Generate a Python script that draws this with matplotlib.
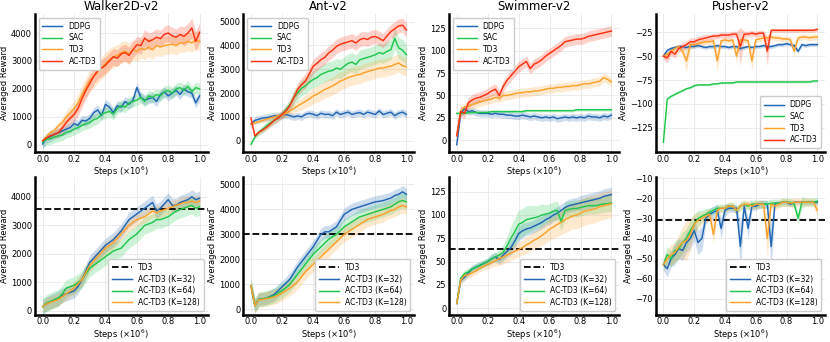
import matplotlib
matplotlib.use('Agg')
import matplotlib.pyplot as plt
import numpy as np

steps = np.linspace(0.0, 1.0, 41)

# ---- top row: baselines vs AC-TD3 ----
walker_ddpg = [30, 250, 300, 380, 430, 500, 560, 620, 760, 700, 880, 850, 950, 1150, 1250, 1050, 1450, 1350, 1150, 1400,
               1350, 1550, 1450, 1600, 2050, 1700, 1600, 1650, 1700, 1550, 1800, 1900, 1750, 1850, 1950, 1800, 2000, 1900,
               1850, 1500, 1750]
walker_sac = [100, 200, 220, 280, 320, 350, 450, 480, 560, 620, 700, 750, 800, 900, 950, 1100, 1150, 1200, 1100, 1300,
              1400, 1350, 1500, 1550, 1600, 1700, 1550, 1750, 1700, 1800, 1750, 1900, 1950, 1850, 2000, 2050, 1950, 2100,
              1900, 2050, 2000]
walker_td3 = [150, 300, 450, 520, 680, 800, 1000, 1150, 1300, 1500, 1800, 2050, 2300, 2450, 2600, 2750, 2900, 3050, 3150,
              3200, 3300, 3350, 3250, 3400, 3350, 3450, 3400, 3500, 3400, 3550, 3500, 3550, 3580, 3600, 3550, 3650, 3640,
              3700, 3650, 3750, 3700]
walker_actd3 = [150, 250, 330, 380, 440, 600, 800, 950, 1090, 1300, 1650, 1950, 2200, 2450, 2650, 2750, 2850, 3000, 3150,
                3100, 3250, 3300, 3200, 3400, 3580, 3550, 3820, 3700, 3760, 3850, 3800, 3950, 4000, 3900, 3850, 3950, 3880,
                4000, 4180, 3700, 4030]
walker_ddpg_sd = 180
walker_sac_sd = 200
walker_td3_sd = [50, 80, 100, 120, 150, 180, 220, 250, 280, 300, 330, 350, 380, 400, 400, 400, 400, 400, 380, 380, 380,
                 380, 380, 360, 360, 350, 350, 350, 350, 340, 340, 330, 330, 330, 330, 330, 330, 330, 330, 330, 330]
walker_actd3_sd = [50, 80, 100, 120, 150, 180, 200, 220, 250, 270, 300, 300, 300, 300, 300, 300, 300, 300, 300, 300, 300,
                   300, 300, 300, 300, 300, 300, 300, 300, 300, 300, 300, 300, 300, 300, 300, 350, 350, 350, 350, 350]

ant_ddpg = [700, 850, 900, 950, 970, 1000, 1050, 1050, 1070, 1100, 1050, 1000, 1040, 1000, 1100, 1150, 1110, 1050, 1150,
            1100, 1110, 1050, 1200, 1100, 1150, 1200, 1100, 1150, 1180, 1100, 1200, 1150, 1100, 1250, 1100, 1150, 1200,
            1050, 1150, 1200, 1100]
ant_sac = [-150, 150, 350, 480, 620, 750, 850, 950, 1110, 1300, 1500, 1800, 2000, 2200, 2300, 2450, 2570, 2650, 2780,
           2850, 2920, 2950, 3050, 3000, 3125, 3250, 3300, 3200, 3400, 3450, 3500, 3550, 3610, 3700, 3650, 3750, 3820,
           4300, 3900, 3800, 3610]
ant_td3 = [700, 750, 800, 850, 900, 950, 1000, 1050, 1070, 1150, 1250, 1350, 1460, 1550, 1650, 1750, 1875, 1950, 2050,
           2150, 2220, 2300, 2400, 2500, 2570, 2650, 2700, 2750, 2780, 2850, 2900, 2950, 2990, 3050, 3050, 3100, 3125,
           3200, 3260, 3150, 3100]
ant_actd3 = [950, 200, 350, 450, 560, 700, 850, 950, 1110, 1250, 1460, 1800, 2150, 2350, 2500, 2800, 3125, 3250, 3400,
             3500, 3680, 3800, 3960, 4050, 4100, 4150, 4200, 4100, 4240, 4300, 4250, 4350, 4375, 4300, 4200, 4400, 4580,
             4700, 4820, 4850, 4650]
ant_ddpg_sd = 150
ant_sac_sd = [50, 100, 120, 150, 150, 150, 150, 150, 180, 200, 250, 300, 300, 320, 340, 350, 360, 380, 380, 400, 400,
              400, 400, 400, 400, 400, 400, 400, 400, 400, 400, 400, 400, 400, 400, 420, 420, 450, 450, 450, 450]
ant_td3_sd = [50, 60, 70, 80, 100, 100, 100, 100, 120, 150, 180, 200, 220, 250, 280, 300, 320, 340, 350, 360, 370,
              380, 380, 380, 380, 380, 380, 380, 380, 380, 380, 380, 380, 380, 380, 380, 380, 380, 380, 380, 380]
ant_actd3_sd = [50, 80, 100, 100, 120, 130, 150, 150, 180, 200, 220, 250, 260, 280, 300, 300, 300, 300, 300, 300, 300,
                300, 300, 300, 300, 300, 300, 300, 300, 300, 300, 300, 300, 300, 300, 300, 300, 300, 300, 300, 300]

swimmer_ddpg = [-5, 30, 35, 32, 33, 31, 30, 30, 30, 29, 30, 29, 29, 28, 28, 27, 27, 28, 27, 26, 27, 26, 25, 26, 25, 26,
                24, 25, 26, 25, 26, 25, 26, 25, 27, 26, 26, 25, 27, 26, 28]
swimmer_sac = [30, 30, 30, 31, 31, 31, 31, 31, 31, 32, 32, 32, 32, 32, 32, 32, 32, 32, 33, 33, 33, 33, 33, 33, 33, 33,
               33, 33, 33, 33, 33, 34, 34, 34, 34, 34, 34, 34, 34, 34, 34]
swimmer_td3 = [5, 33, 37, 38, 40, 41, 43, 44, 45, 46, 48, 47, 50, 50, 51, 52, 53, 53, 54, 54, 55, 55, 56, 57, 58, 58,
               59, 59, 60, 60, 61, 61, 62, 63, 63, 64, 65, 66, 70, 68, 65]
swimmer_actd3 = [5, 32, 30, 42, 45, 47, 48, 50, 52, 55, 57, 50, 60, 67, 72, 77, 82, 85, 88, 80, 85, 87, 90, 94, 97, 100,
                 103, 106, 110, 111, 112, 113, 113, 114, 116, 117, 118, 119, 120, 121, 122]
swimmer_ddpg_sd = 4
swimmer_sac_sd = 1.5
swimmer_td3_sd = 5
swimmer_actd3_sd = 6

pusher_ddpg = [-50, -44, -42, -41, -40, -40, -41, -40, -40, -39, -40, -41, -40, -40, -39, -40, -40, -41, -40, -40, -42,
               -41, -40, -41, -40, -40, -39, -40, -40, -39, -38, -38, -37, -38, -39, -45, -38, -39, -38, -38, -38]
pusher_sac = [-140, -95, -92, -90, -88, -86, -84, -83, -81, -80, -80, -80, -80, -79, -79, -78, -78, -78, -78, -77, -77,
              -77, -77, -77, -77, -77, -77, -77, -77, -77, -77, -77, -77, -77, -77, -77, -77, -77, -77, -76, -76]
pusher_td3 = [-50, -48, -45, -42, -40, -45, -55, -38, -38, -37, -36, -35, -35, -34, -55, -34, -33, -34, -33, -50, -33,
              -33, -34, -55, -33, -32, -31, -31, -30, -31, -31, -32, -32, -33, -45, -31, -30, -30, -31, -30, -30]
pusher_actd3 = [-50, -52, -45, -48, -42, -40, -38, -35, -35, -33, -32, -31, -30, -29, -29, -28, -28, -28, -27, -27, -40,
                -27, -27, -26, -27, -26, -26, -45, -23, -23, -23, -23, -23, -23, -23, -23, -23, -23, -23, -23, -22]
pusher_ddpg_sd = 2
pusher_sac_sd = 1
pusher_td3_sd = [3, 3, 3, 3, 3, 5, 12, 5, 3, 3, 3, 3, 3, 3, 12, 3, 3, 3, 3, 8, 3, 3, 3, 10, 3, 3, 3, 3, 3, 3, 3, 3, 3,
                 3, 5, 3, 3, 3, 3, 3, 3]
pusher_actd3_sd = [4, 5, 4, 4, 4, 4, 4, 4, 4, 4, 4, 4, 3, 3, 3, 3, 3, 3, 3, 3, 20, 3, 3, 3, 3, 3, 3, 15, 2, 2, 2, 2, 2,
                   2, 2, 2, 2, 2, 2, 2, 2]

# ---- bottom row: AC-TD3 with different K ----
walker_k32 = [150, 250, 320, 380, 450, 550, 600, 650, 700, 850, 1100, 1400, 1700, 1850, 2000, 2150, 2300, 2400, 2500,
              2650, 2800, 3000, 3200, 3300, 3400, 3500, 3600, 3700, 3800, 3500, 3600, 3750, 3900, 3700, 3700, 3800, 3850,
              3900, 4000, 3900, 3950]
walker_k64 = [150, 280, 330, 400, 450, 600, 800, 850, 900, 1000, 1100, 1300, 1500, 1600, 1700, 1800, 1900, 2000, 2100,
              2150, 2200, 2350, 2500, 2600, 2700, 2850, 3000, 3050, 3100, 3200, 3200, 3250, 3300, 3400, 3500, 3550, 3600,
              3650, 3700, 3600, 3650]
walker_k128 = [150, 250, 300, 350, 400, 500, 600, 700, 800, 950, 1100, 1350, 1600, 1750, 1900, 2050, 2200, 2300, 2400,
               2550, 2700, 2850, 3000, 3100, 3200, 3250, 3300, 3400, 3500, 3450, 3500, 3550, 3600, 3650, 3700, 3750, 3800,
               3800, 3850, 3800, 3850]
walker_k32_sd = 250
walker_k64_sd = 300
walker_k128_sd = 220
walker_td3_final = 3570

ant_k32 = [950, 150, 400, 420, 450, 520, 600, 750, 900, 1050, 1200, 1450, 1700, 1900, 2100, 2300, 2500, 2750, 3000, 3100,
           3100, 3200, 3300, 3550, 3800, 3900, 4000, 4050, 4100, 4150, 4200, 4250, 4300, 4320, 4350, 4400, 4450, 4550,
           4600, 4700, 4600]
ant_k64 = [950, 150, 400, 420, 450, 500, 550, 650, 750, 870, 1000, 1200, 1400, 1600, 1800, 2000, 2200, 2350, 2500, 2650,
           2800, 2900, 3000, 3150, 3300, 3400, 3500, 3600, 3700, 3750, 3800, 3850, 3900, 3950, 4000, 4050, 4100, 4200,
           4300, 4350, 4300]
ant_k128 = [950, 150, 380, 400, 430, 460, 500, 570, 650, 750, 850, 970, 1100, 1300, 1500, 1650, 1800, 1950, 2100, 2250,
            2400, 2550, 2700, 2850, 3000, 3100, 3200, 3300, 3400, 3500, 3600, 3650, 3700, 3750, 3800, 3880, 3950, 4000,
            4100, 4150, 4100]
ant_k32_sd = 250
ant_k64_sd = 300
ant_k128_sd = 300
ant_td3_final = 3030

swimmer_k32 = [5, 30, 33, 38, 42, 44, 46, 48, 50, 53, 55, 52, 57, 61, 65, 72, 80, 83, 85, 86, 88, 90, 92, 95, 97, 100,
               102, 105, 108, 110, 111, 112, 113, 114, 115, 116, 117, 118, 120, 121, 122]
swimmer_k64 = [5, 32, 37, 39, 42, 44, 46, 48, 50, 53, 55, 57, 60, 67, 75, 82, 90, 92, 95, 96, 97, 98, 100, 101, 102, 104,
               105, 93, 105, 106, 107, 107, 108, 109, 110, 110, 110, 111, 112, 112, 113]
swimmer_k128 = [5, 30, 35, 36, 38, 40, 43, 45, 47, 49, 51, 53, 55, 57, 59, 61, 63, 65, 68, 70, 73, 75, 78, 81, 85, 87,
                90, 92, 95, 97, 99, 100, 102, 104, 105, 106, 107, 109, 110, 111, 112]
swimmer_k32_sd = [2, 4, 4, 4, 4, 4, 4, 4, 4, 5, 5, 5, 6, 7, 8, 8, 8, 8, 7, 7, 7, 7, 7, 7, 7, 7, 7, 7, 7, 7, 7, 7, 8, 8,
                  8, 8, 8, 8, 8, 8, 8]
swimmer_k64_sd = [2, 4, 4, 4, 4, 4, 4, 4, 4, 5, 5, 6, 8, 10, 13, 15, 15, 15, 15, 14, 13, 12, 12, 10, 10, 10, 10, 10, 9,
                  9, 9, 9, 9, 9, 9, 9, 9, 9, 9, 9, 9]
swimmer_k128_sd = [2, 4, 4, 4, 4, 4, 4, 4, 5, 5, 6, 7, 8, 8, 8, 8, 8, 8, 9, 9, 10, 10, 11, 11, 12, 12, 13, 13, 14, 14,
                   14, 15, 15, 15, 15, 15, 15, 15, 15, 15, 15]
swimmer_td3_final = 63.5

pusher_k32 = [-53, -55, -50, -48, -45, -46, -42, -40, -36, -42, -40, -30, -28, -27, -26, -35, -26, -25, -25, -25, -44,
              -24, -35, -24, -24, -23, -23, -23, -44, -22.5, -22.5, -22, -22, -23, -22, -22, -22, -22, -22, -22, -22]
pusher_k64 = [-53, -48, -50, -46, -45, -42, -40, -36, -33, -30, -29, -28, -27, -26, -25, -25, -25, -24, -24, -26, -24,
              -23, -24, -23, -23, -23, -23, -23, -22.5, -22.5, -22.5, -22, -22, -22, -23, -30, -22, -22, -22, -22, -21.5]
pusher_k128 = [-53, -50, -48, -47, -44, -42, -41, -38, -33, -31, -30, -29, -28, -38, -26, -25, -25, -24, -24, -26, -24,
               -23, -23, -24, -23, -23, -23, -40, -23, -24, -23, -22, -22, -22.5, -22, -22, -22, -22, -22, -22, -26]
pusher_k32_sd = [3, 4, 4, 5, 5, 5, 5, 5, 5, 6, 6, 3, 3, 3, 3, 5, 3, 2, 2, 2, 12, 2, 5, 2, 2, 2, 2, 2, 12, 1, 1, 1, 1,
                 1, 1, 1, 1, 1, 1, 1, 1]
pusher_k64_sd = [3, 4, 4, 5, 5, 5, 5, 5, 5, 4, 3, 3, 2, 2, 2, 2, 2, 2, 2, 2, 2, 2, 2, 2, 2, 2, 2, 2, 2, 2, 2, 2, 2, 2,
                 2, 3, 3, 2, 2, 2, 2]
pusher_k128_sd = [3, 4, 5, 5, 6, 8, 10, 8, 5, 4, 3, 3, 3, 5, 2, 2, 2, 2, 2, 2, 2, 2, 2, 2, 2, 2, 2, 10, 2, 2, 2, 2, 2,
                  2, 2, 2, 2, 2, 2, 2, 3]
pusher_td3_final = -31

titles = ['Walker2D-v2', 'Ant-v2', 'Swimmer-v2', 'Pusher-v2']
algo_labels = ['DDPG', 'SAC', 'TD3', 'AC-TD3']
k_labels = ['AC-TD3 (K=32)', 'AC-TD3 (K=64)', 'AC-TD3 (K=128)']

BLUE, GREEN, ORANGE, RED = '#1f66b4', '#1ec84a', '#ffa02a', '#ff300e'

top_curves = [
    [(walker_ddpg, walker_ddpg_sd), (walker_sac, walker_sac_sd), (walker_td3, walker_td3_sd), (walker_actd3, walker_actd3_sd)],
    [(ant_ddpg, ant_ddpg_sd), (ant_sac, ant_sac_sd), (ant_td3, ant_td3_sd), (ant_actd3, ant_actd3_sd)],
    [(swimmer_ddpg, swimmer_ddpg_sd), (swimmer_sac, swimmer_sac_sd), (swimmer_td3, swimmer_td3_sd), (swimmer_actd3, swimmer_actd3_sd)],
    [(pusher_ddpg, pusher_ddpg_sd), (pusher_sac, pusher_sac_sd), (pusher_td3, pusher_td3_sd), (pusher_actd3, pusher_actd3_sd)],
]
bot_curves = [
    [(walker_k32, walker_k32_sd), (walker_k64, walker_k64_sd), (walker_k128, walker_k128_sd)],
    [(ant_k32, ant_k32_sd), (ant_k64, ant_k64_sd), (ant_k128, ant_k128_sd)],
    [(swimmer_k32, swimmer_k32_sd), (swimmer_k64, swimmer_k64_sd), (swimmer_k128, swimmer_k128_sd)],
    [(pusher_k32, pusher_k32_sd), (pusher_k64, pusher_k64_sd), (pusher_k128, pusher_k128_sd)],
]
td3_finals = [walker_td3_final, ant_td3_final, swimmer_td3_final, pusher_td3_final]

top_ylims = [(-250, 4680), (-470, 5320), (-13, 141), (-150, -6)]
bot_ylims = [(-130, 4700), (-210, 5300), (-7, 141), (-77.8, -9.4)]
top_yticks = [np.arange(0, 4001, 1000), np.arange(0, 5001, 1000), np.arange(0, 126, 25), np.arange(-125, -24, 25)]
bot_yticks = [np.arange(0, 4001, 1000), np.arange(0, 5001, 1000), np.arange(0, 126, 25), np.arange(-70, -9, 10)]
top_legend_loc = ['upper left', 'upper left', 'upper left', 'lower right']

col_left = [0.042, 0.293, 0.541, 0.790]
col_width = [0.208, 0.206, 0.205, 0.204]
row_bottom = [0.556, 0.080]
row_height = 0.403


def style_axes(ax, ylim, yticks):
    ax.set_facecolor('white')
    ax.grid(True, color='#e8e8e8', linewidth=0.6)
    ax.set_axisbelow(True)
    for side in ['top', 'right']:
        ax.spines[side].set_visible(False)
    for side in ['left', 'bottom']:
        ax.spines[side].set_color('black')
        ax.spines[side].set_linewidth(1.8)
    ax.set_xlim(-0.05, 1.05)
    ax.set_xticks(np.arange(0, 1.01, 0.2))
    ax.set_ylim(*ylim)
    ax.set_yticks(yticks)
    ax.tick_params(labelsize=6, length=0, pad=2)
    ax.set_xlabel(r'Steps ($\times 10^6$)', fontsize=6, labelpad=0.5)
    ax.set_ylabel('Averaged Reward', fontsize=6, labelpad=1.5)


def draw_curve(ax, mean, sd, color, label):
    mean = np.asarray(mean, dtype=float)
    sd = np.broadcast_to(np.asarray(sd, dtype=float), mean.shape)
    ax.fill_between(steps, mean - sd, mean + sd, color=color, alpha=0.22, linewidth=0)
    ax.plot(steps, mean, color=color, linewidth=1.05, label=label)


fig = plt.figure(figsize=(8.3, 3.42), dpi=100)

for c in range(4):
    ax = fig.add_axes([col_left[c], row_bottom[0], col_width[c], row_height])
    style_axes(ax, top_ylims[c], top_yticks[c])
    for (mean, sd), color, label in zip(top_curves[c], [BLUE, GREEN, ORANGE, RED], algo_labels):
        draw_curve(ax, mean, sd, color, label)
    ax.set_title(titles[c], fontsize=8.5, pad=3)
    ax.legend(loc=top_legend_loc[c], fontsize=5.5, handlelength=2.6, labelspacing=0.35,
              borderpad=0.5, framealpha=1, edgecolor='#cccccc')

    ax = fig.add_axes([col_left[c], row_bottom[1], col_width[c], row_height])
    style_axes(ax, bot_ylims[c], bot_yticks[c])
    ax.axhline(td3_finals[c], color='black', linestyle='--', linewidth=1.3, label='TD3')
    for (mean, sd), color, label in zip(bot_curves[c], [BLUE, GREEN, ORANGE], k_labels):
        draw_curve(ax, mean, sd, color, label)
    ax.legend(loc='lower right', fontsize=5.5, handlelength=2.6, labelspacing=0.35,
              borderpad=0.5, framealpha=1, edgecolor='#cccccc')

fig.savefig('out.png', dpi=100)
